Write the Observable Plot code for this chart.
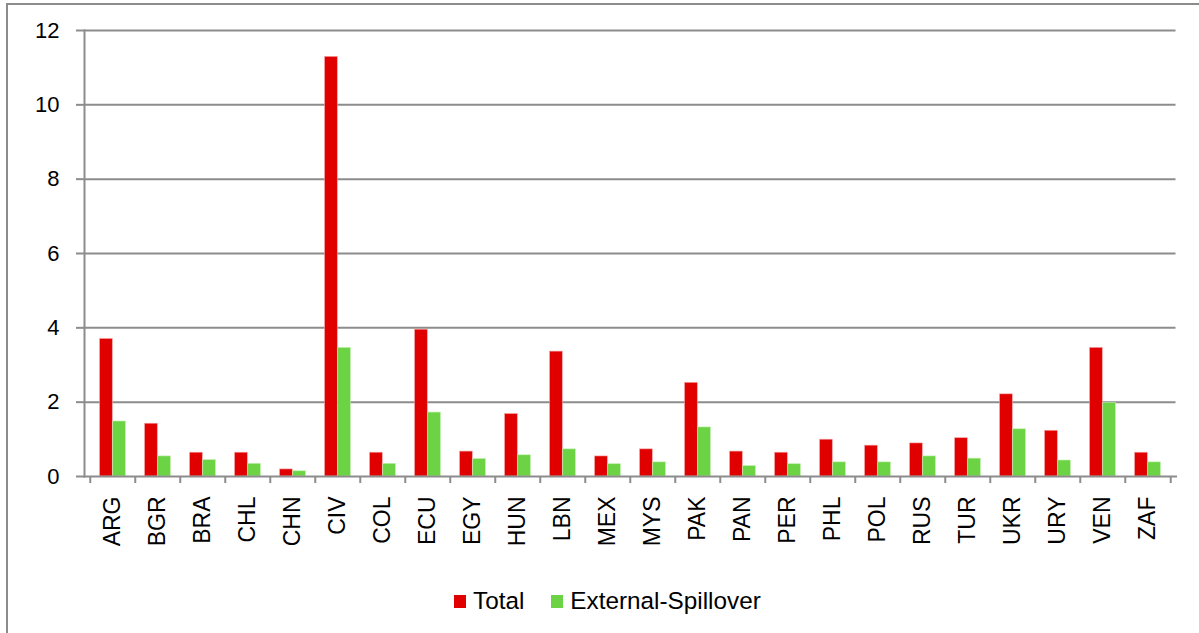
<!DOCTYPE html>
<html>
<head>
<meta charset="utf-8">
<script src="https://cdn.jsdelivr.net/npm/d3@7"></script>
<script src="https://cdn.jsdelivr.net/npm/@observablehq/plot@0.6"></script>
<style>
  html, body { margin: 0; padding: 0; background: #fff; overflow: hidden; }
  body { width: 1199px; height: 633px; position: relative; font-family: "Liberation Sans", Arial, sans-serif; }
  #frame { position: absolute; left: 6px; top: 3px; width: 1300px; height: 700px; border: 2px solid #8c8c8c; box-sizing: border-box; }
  #chart { position: absolute; left: 0; top: 0; }
  #legend { position: absolute; left: 454px; top: 587px; display: flex; align-items: center; font-size: 24.3px; color: #000; }
  .sw { width: 12px; height: 13px; display: inline-block; margin-right: 7px; }
  .item { display: flex; align-items: center; margin-right: 27px; }
</style>
</head>
<body>
<div id="frame"></div>
<div id="chart"></div>
<div id="legend"></div>
<script>
const countries = ["ARG","BGR","BRA","CHL","CHN","CIV","COL","ECU","EGY","HUN","LBN","MEX","MYS","PAK","PAN","PER","PHL","POL","RUS","TUR","UKR","URY","VEN","ZAF"];
const total = [3.70,1.42,0.64,0.64,0.19,11.29,0.64,3.95,0.67,1.68,3.36,0.54,0.73,2.52,0.67,0.64,0.99,0.83,0.89,1.03,2.21,1.23,3.46,0.64];
const spillover = [1.48,0.54,0.44,0.34,0.14,3.46,0.34,1.72,0.47,0.57,0.73,0.33,0.38,1.32,0.28,0.33,0.38,0.38,0.54,0.48,1.27,0.43,1.98,0.38];
const seriesNames = ["Total","External-Spillover"];
const seriesColors = ["#e00000","#6cd444"];
const yTicks = [0,2,4,6,8,10,12];

const W = 1199, H = 570, ML = 84, MR = 23.5, MT = 30, MB = 94;
const bw = (W - ML - MR) / countries.length;
const gap = 9.6;
const half = bw / 2;

const data = countries.flatMap((c, i) => [
  {country: c, series: seriesNames[0], value: total[i]},
  {country: c, series: seriesNames[1], value: spillover[i]}
]);

const gray = "#8c8c8c";

const chart = Plot.plot({
  width: W,
  height: H,
  marginLeft: ML,
  marginRight: MR,
  marginTop: MT,
  marginBottom: MB,
  style: {fontFamily: "'Liberation Sans', Arial, sans-serif", fontSize: "22px", color: "#000", background: "transparent"},
  x: {domain: countries, padding: 0, label: null},
  y: {domain: [0, 12], label: null},
  color: {domain: seriesNames, range: seriesColors},
  marks: [
    Plot.gridY(yTicks.filter(d => d > 0), {stroke: gray, strokeOpacity: 1, strokeWidth: 2}),
    Plot.barY(data.filter(d => d.series === seriesNames[0]), {x: "country", y: "value", fill: "series", insetLeft: gap, insetRight: half, stroke: "#f6a0a0", strokeWidth: 0.6}),
    Plot.barY(data.filter(d => d.series === seriesNames[1]), {x: "country", y: "value", fill: "series", insetLeft: half, insetRight: gap, stroke: "#bdeeaa", strokeWidth: 0.6}),
    Plot.frame({anchor: "left", stroke: gray, strokeWidth: 2}),
    Plot.frame({anchor: "bottom", stroke: gray, strokeWidth: 2}),
    Plot.axisY({ticks: yTicks, tickSize: 8, tickPadding: 17, stroke: gray, strokeWidth: 2, fontSize: 22, label: null}),
    Plot.axisX({ticks: countries, tickSize: 7, tickFormat: () => "", dx: -half, stroke: gray, strokeWidth: 2, label: null}),
    Plot.axisX({ticks: [countries[countries.length - 1]], tickSize: 7, tickFormat: () => "", dx: half, stroke: gray, strokeWidth: 2, label: null}),
    Plot.axisX({ticks: countries, tickSize: 0, tickPadding: 20, tickRotate: -90, fontSize: 23, label: null})
  ]
});
document.getElementById("chart").appendChild(chart);

const legend = document.getElementById("legend");
seriesNames.forEach((s, i) => {
  const item = document.createElement("div");
  item.className = "item";
  const sw = document.createElement("span");
  sw.className = "sw";
  sw.style.background = seriesColors[i];
  const t = document.createElement("span");
  t.textContent = s;
  item.appendChild(sw);
  item.appendChild(t);
  legend.appendChild(item);
});
</script>
</body>
</html>
